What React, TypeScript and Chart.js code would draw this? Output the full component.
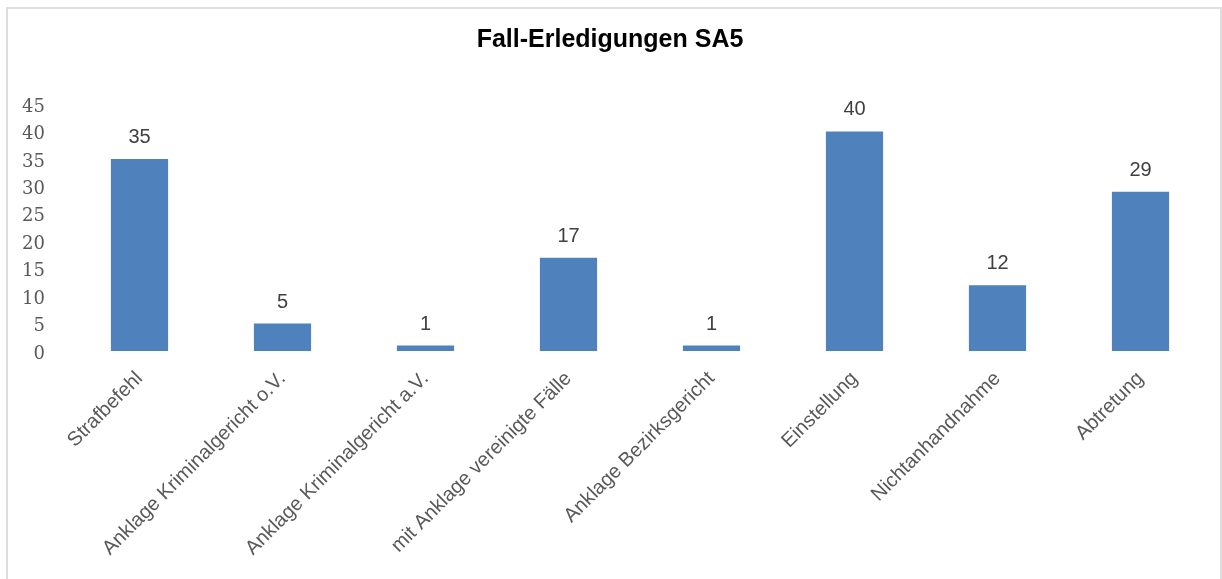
import { useEffect, useRef } from "react";
import { Chart, registerables } from "chart.js";

Chart.register(...registerables);

const chartTitle = "Fall-Erledigungen SA5";
const categories = [
  "Strafbefehl",
  "Anklage Kriminalgericht o.V.",
  "Anklage Kriminalgericht a.V.",
  "mit Anklage vereinigte Fälle",
  "Anklage Bezirksgericht",
  "Einstellung",
  "Nichtanhandnahme",
  "Abtretung",
];
const values = [35, 5, 1, 17, 1, 40, 12, 29];
const yTickValues = [0, 5, 10, 15, 20, 25, 30, 35, 40, 45];

const SANS = "'Liberation Sans', Arial, Helvetica, sans-serif";
const SERIF = "'DejaVu Serif', 'Liberation Serif', serif";

const valueLabels = {
  id: "valueLabels",
  afterDatasetsDraw(chart: any) {
    const ctx = chart.ctx;
    const meta = chart.getDatasetMeta(0);
    ctx.save();
    ctx.font = `20px ${SANS}`;
    ctx.fillStyle = "#404040";
    ctx.textAlign = "center";
    ctx.textBaseline = "alphabetic";
    meta.data.forEach((el: any, i: number) => {
      ctx.fillText(String(values[i]), el.x, el.y - 16);
    });
    ctx.restore();
  },
};

export default function App() {
  const canvasRef = useRef<HTMLCanvasElement | null>(null);

  useEffect(() => {
    if (!canvasRef.current) return;
    const chart = new Chart(canvasRef.current, {
      type: "bar",
      data: {
        labels: categories,
        datasets: [
          {
            data: values,
            backgroundColor: "#4F81BD",
            borderWidth: 0,
            barPercentage: 0.4,
            categoryPercentage: 1,
          },
        ],
      },
      options: {
        animation: false,
        responsive: false,
        devicePixelRatio: 1,
        layout: { padding: { left: 8, right: 10, top: 0, bottom: 0 } },
        plugins: {
          legend: { display: false },
          tooltip: { enabled: false },
          title: {
            display: true,
            text: chartTitle,
            color: "#000000",
            font: { family: SANS, size: 25, weight: "bold", lineHeight: 1.2 },
            padding: { top: 25, bottom: 49 },
          },
        },
        scales: {
          x: {
            grid: { display: false, drawTicks: false },
            border: { display: false },
            ticks: {
              color: "#595959",
              font: { family: SANS, size: 20 },
              minRotation: 45,
              maxRotation: 45,
              autoSkip: false,
              padding: 16,
            },
            afterFit(scale: any) {
              scale.height = 228;
            },
          },
          y: {
            min: 0,
            max: 45,
            grid: { display: false, drawTicks: false },
            border: { display: false },
            ticks: {
              color: "#595959",
              font: { family: SERIF, size: 18 },
              padding: 23,
              labelOffset: 3,
            },
            afterBuildTicks(scale: any) {
              scale.ticks = yTickValues.map((v) => ({ value: v }));
            },
            afterFit(scale: any) {
              scale.width = 60;
            },
          },
        },
      },
      plugins: [valueLabels],
    });
    return () => chart.destroy();
  }, []);

  return (
    <div
      style={{
        position: "absolute",
        left: 0,
        top: 0,
        width: 1222,
        height: 579,
        background: "#ffffff",
        overflow: "hidden",
      }}
    >
      <div
        style={{
          position: "absolute",
          left: 6,
          top: 7,
          width: 1216,
          height: 600,
          boxSizing: "border-box",
          border: "2px solid #DEDEDE",
        }}
      />
      <canvas
        ref={canvasRef}
        width={1222}
        height={579}
        style={{ position: "absolute", left: 0, top: 0, width: 1222, height: 579 }}
      />
    </div>
  );
}
